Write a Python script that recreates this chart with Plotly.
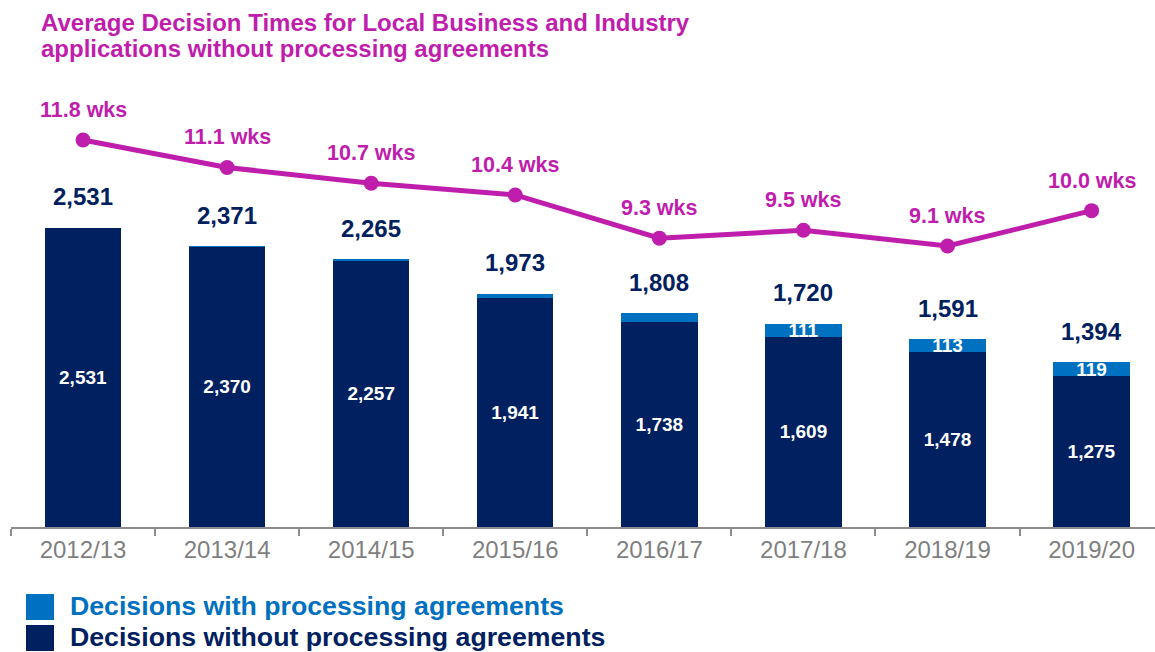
import plotly.graph_objects as go

years = ["2012/13", "2013/14", "2014/15", "2015/16", "2016/17", "2017/18", "2018/19", "2019/20"]
totals = [2531, 2371, 2265, 1973, 1808, 1720, 1591, 1394]
without_pa = [2531, 2370, 2257, 1941, 1738, 1609, 1478, 1275]
with_pa = [0, 1, 8, 32, 70, 111, 113, 119]
weeks = [11.8, 11.1, 10.7, 10.4, 9.3, 9.5, 9.1, 10.0]
title_lines = ["Average Decision Times for Local Business and Industry",
               "applications without processing agreements"]
legend_labels = ["Decisions with processing agreements",
                 "Decisions without processing agreements"]

NAVY = "#002060"
BLUE = "#0070C0"
MAGENTA = "#BF1DAB"
GRAY = "#7F7F7F"
FONT = "Liberation Sans, Arial, sans-serif"

W, H = 1155, 652
ML, MR, MT, MB = 11, 0, 80, 125
PW = W - ML - MR
PH = H - MT - MB


def px_x(x):
    return (x - ML) / PW


def px_y(y):
    return (H - MB - y) / PH


fig = go.Figure()

fig.add_trace(go.Bar(
    x=years, y=without_pa, name=legend_labels[1],
    marker=dict(color=NAVY, line=dict(width=0)),
    text=[f"{v:,}" for v in without_pa], textposition="inside",
    insidetextanchor="middle", constraintext="none",
    textfont=dict(color="white", size=19, family=FONT, weight="bold"),
    hoverinfo="skip",
))
fig.add_trace(go.Bar(
    x=years, y=with_pa, name=legend_labels[0],
    marker=dict(color=BLUE, line=dict(width=0)),
    text=[f"{v:,}" if v >= 100 else "" for v in with_pa], textposition="inside",
    insidetextanchor="middle", constraintext="none",
    textfont=dict(color="white", size=19, family=FONT, weight="bold"),
    hoverinfo="skip",
))
fig.add_trace(go.Scatter(
    x=years, y=weeks, yaxis="y2", mode="lines+markers",
    line=dict(color=MAGENTA, width=5),
    marker=dict(color=MAGENTA, size=15),
    hoverinfo="skip",
))

annotations = []
for yr, t in zip(years, totals):
    annotations.append(dict(
        x=yr, y=t, xref="x", yref="y", text=f"{t:,}", showarrow=False,
        yanchor="middle", yshift=31,
        font=dict(color=NAVY, size=24, family=FONT, weight="bold"),
    ))
for yr, w in zip(years, weeks):
    annotations.append(dict(
        x=yr, y=w, xref="x", yref="y2", text=f"{w:.1f} wks", showarrow=False,
        yanchor="middle", yshift=30,
        font=dict(color=MAGENTA, size=21.5, family=FONT, weight="bold"),
    ))

# Title (two lines, explicit spacing)
for line, yc in zip(title_lines, [22, 48]):
    annotations.append(dict(
        x=px_x(39), y=px_y(yc), xref="paper", yref="paper", xanchor="left", yanchor="middle",
        text=line, showarrow=False,
        font=dict(color=MAGENTA, size=24, family=FONT, weight="bold"),
    ))

# Legend (custom)
for label, col, yc in zip(legend_labels, [BLUE, NAVY], [606, 637]):
    annotations.append(dict(
        x=px_x(68), y=px_y(yc), xref="paper", yref="paper", xanchor="left", yanchor="middle",
        text=label, showarrow=False,
        font=dict(color=col, size=26.7, family=FONT, weight="bold"),
    ))
shapes = [
    dict(type="rect", xref="paper", yref="paper", x0=px_x(26), x1=px_x(54),
         y0=px_y(620), y1=px_y(594), fillcolor=BLUE, line=dict(width=0)),
    dict(type="rect", xref="paper", yref="paper", x0=px_x(26), x1=px_x(54),
         y0=px_y(651), y1=px_y(625), fillcolor=NAVY, line=dict(width=0)),
]

fig.update_layout(
    width=W, height=H,
    margin=dict(l=ML, r=MR, t=MT, b=MB),
    paper_bgcolor="white", plot_bgcolor="white",
    barmode="stack", bargap=0.47,
    showlegend=False,
    xaxis=dict(
        type="category", range=[-0.5, 7.44], tickson="boundaries",
        showline=True, linecolor="#8C8C8C", linewidth=2,
        ticks="outside", ticklen=7, tickcolor="#8C8C8C", tickwidth=2,
        tickfont=dict(color=GRAY, size=24, family=FONT),
        showgrid=False, zeroline=False,
    ),
    yaxis=dict(range=[0, 3783], visible=False, showgrid=False, zeroline=False),
    yaxis2=dict(range=[1.943, 13.328], overlaying="y", visible=False, showgrid=False),
    annotations=annotations,
    shapes=shapes,
)

fig.write_html(
    "out.html",
    config={"displayModeBar": False},
    post_script="document.body.style.margin='0';document.body.style.overflow='hidden';",
)
